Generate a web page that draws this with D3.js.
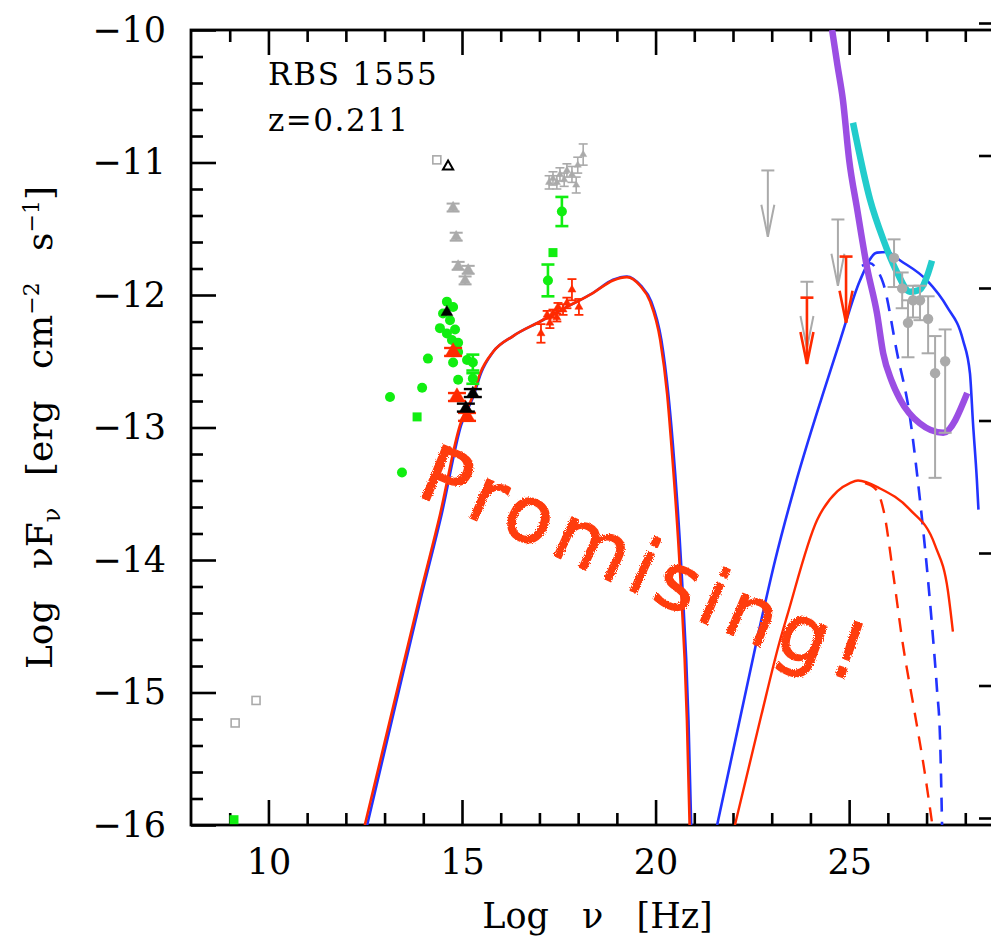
<!DOCTYPE html>
<html><head><meta charset="utf-8">
<script src="https://cdn.jsdelivr.net/npm/d3@7"></script>
<style>body{margin:0;background:#fff}svg{display:block}</style>
</head><body>
<svg id="c" width="991" height="936"></svg>
<script>
// ---------- data (log nu [Hz], log nuFnu [erg cm^-2 s^-1]) ----------
const xMajorTicks = [10, 15, 20, 25];
const xMinorTicks = d3.range(9, 29);
const yMajorTicks = [-10, -11, -12, -13, -14, -15, -16];
const yMinorTicks = d3.range(-16, -9.9, 0.2).map(v => +v.toFixed(1));
const sourceName = "RBS 1555";
const redshiftLabel = "z=0.211";

const syncBlue = [[12.55,-16.0],[13.27,-15.11],[13.96,-14.26],[14.47,-13.66],[14.98,-12.98],[15.30,-12.76],[15.49,-12.59],[15.80,-12.43],[16.32,-12.31],[17.02,-12.20],[17.71,-12.09],[18.38,-11.985],[18.90,-11.885],[19.26,-11.86],[19.62,-11.93],[19.89,-12.05],[20.15,-12.34],[20.33,-12.75],[20.44,-13.1],[20.67,-14.08],[20.85,-15.21],[20.92,-16.0]];
const syncRed  = [[12.49,-16.0],[13.22,-15.11],[13.92,-14.26],[14.43,-13.66],[14.95,-12.98],[15.28,-12.76],[15.47,-12.59],[15.80,-12.43],[16.32,-12.31],[17.02,-12.20],[17.71,-12.09],[18.38,-11.985],[18.90,-11.89],[19.26,-11.865],[19.60,-11.93],[19.86,-12.05],[20.12,-12.34],[20.30,-12.75],[20.40,-13.1],[20.63,-14.08],[20.81,-15.21],[20.88,-16.0]];
const icBlue   = [[21.59,-16.0],[22.62,-14.60],[23.09,-14.0],[23.60,-13.44],[24.33,-12.74],[24.77,-12.34],[25.28,-11.89],[25.72,-11.68],[25.98,-11.675],[26.32,-11.74],[27.01,-11.89],[27.53,-12.09],[27.94,-12.34],[28.12,-12.59],[28.20,-12.97],[28.30,-13.40],[28.34,-13.62]];
const icBlueDash = [[25.33,-11.78],[25.54,-11.76],[25.72,-11.81],[25.88,-11.91],[26.24,-12.44],[26.57,-12.92],[26.75,-13.34],[27.17,-14.60],[27.27,-14.98],[27.35,-15.36],[27.40,-16.0]];
const icRed    = [[22.05,-16.0],[22.70,-15.21],[23.22,-14.60],[23.40,-14.42],[24.17,-13.70],[24.70,-13.48],[25.02,-13.42],[25.23,-13.40],[25.80,-13.46],[26.57,-13.62],[27.22,-13.89],[27.55,-14.23],[27.68,-14.54]];
const icRedDash = [[25.41,-13.42],[25.70,-13.47],[25.90,-13.64],[26.14,-14.11],[26.39,-14.64],[26.68,-15.13],[26.94,-15.58],[27.14,-15.98]];
const sensPurple = [[24.56,-10.0],[24.70,-10.27],[24.84,-10.53],[25.0,-10.98],[25.20,-11.34],[25.46,-11.79],[25.72,-12.14],[25.88,-12.44],[26.10,-12.65],[26.32,-12.79],[26.83,-12.97],[27.43,-13.04],[28.05,-12.74]];
const sensCyan = [[25.10,-10.70],[25.54,-11.28],[25.88,-11.58],[26.24,-11.83],[26.57,-11.975],[26.83,-11.96],[27.01,-11.86],[27.14,-11.74]];

const grayOpenSquares = [[9.14,-15.23],[9.68,-15.06],[14.35,-10.98]];
const greenSquares = [[9.11,-15.96],[13.84,-12.92],[17.35,-11.68]];
const blackOpenTriangles = [[14.64,-11.03]];
// [x, y, yErr]
const grayUVTriangles = [[14.77,-11.34,0.03],[14.85,-11.56,0.03],[14.90,-11.78,0.03],[15.16,-11.81,0.03],[15.08,-11.89,0.03]];
const grayXTriangles = [[17.25,-11.15,0.05],[17.35,-11.12,0.05],[17.45,-11.15,0.05],[17.53,-11.09,0.05],[17.64,-11.13,0.05],[17.71,-11.06,0.05],[17.84,-11.09,0.06],[17.95,-11.17,0.06],[17.99,-11.02,0.06],[18.13,-10.94,0.08]];
const greenCircles = [[14.61,-12.05,0],[14.77,-12.09,0],[14.51,-12.14,0],[14.69,-12.19,0],[14.43,-12.25,0],[14.61,-12.29,0],[14.82,-12.26,0],[14.74,-12.34,0],[14.90,-12.36,0],[14.90,-12.43,0],[14.12,-12.48,0],[14.77,-12.51,0],[15.13,-12.49,0],[15.28,-12.51,0.06],[14.90,-12.64,0],[15.28,-12.63,0.04],[13.97,-12.70,0],[13.14,-12.77,0],[13.45,-13.34,0],[17.58,-11.37,0.11],[17.22,-11.89,0.12]];
const redOptTriangles = [[14.77,-12.43,0.03],[14.87,-12.77,0.03],[15.13,-12.92,0.03]];
const blackTriangles = [[14.61,-12.13,0],[15.28,-12.74,0.03],[15.10,-12.85,0.03]];
const redXTriangles = [[17.04,-12.29,0.07],[17.20,-12.15,0.03],[17.27,-12.21,0.04],[17.35,-12.14,0.03],[17.45,-12.17,0.03],[17.48,-12.09,0.03],[17.61,-12.11,0.04],[17.71,-12.06,0.04],[17.84,-11.96,0.08],[18.02,-12.09,0.06]];
const fermiGray = [[26.16,-11.72,-11.58,-11.94],[26.37,-11.95,-11.83,-12.10],[26.65,-12.04,-11.93,-12.17],[26.83,-12.04,-11.93,-12.19],[26.52,-12.21,-12.04,-12.47],[27.04,-12.18,-12.01,-12.44],[27.22,-12.59,-12.31,-13.38],[27.48,-12.50,-12.26,-13.04]];
const ulGray = [[22.90,-11.06],[24.71,-11.43],[23.91,-11.90]];
const ulRed = [[23.91,-12.02],[24.92,-11.71]];
const annotation = "Promising!";

// ---------- layout ----------
const svg = d3.select("#c");
const L = 191, R = 1004, T = 30, B = 825;
const x = d3.scaleLinear([8, 29], [L, R]);
const y = d3.scaleLinear([-16, -10], [B, T]);
const RED = "#ff2a00", BLUE = "#2233ff", GREEN = "#11ee11", GRAY = "#aaaaaa";
const FONT = "'DejaVu Serif', 'Liberation Serif', serif";

const defs = svg.append("defs");
defs.append("clipPath").attr("id", "plotclip").append("rect")
  .attr("x", L).attr("y", T).attr("width", R - L).attr("height", B - T);
const flt = defs.append("filter").attr("id", "rough").attr("x", "-5%").attr("y", "-5%").attr("width", "110%").attr("height", "110%");
flt.append("feTurbulence").attr("type", "fractalNoise").attr("baseFrequency", 0.9).attr("numOctaves", 2).attr("result", "n");
flt.append("feDisplacementMap").attr("in", "SourceGraphic").attr("in2", "n").attr("scale", 4);

// ---------- axes ----------
function styleAxis(g) {
  g.selectAll(".domain").remove();
  g.selectAll("line").attr("stroke", "#000").attr("stroke-width", 2.6);
  g.selectAll("text").attr("fill", "#000").style("font-family", FONT).style("font-size", "35px");
}
const minorX = xMinorTicks.filter(v => !xMajorTicks.includes(v));
const minorY = yMinorTicks.filter(v => !yMajorTicks.includes(v));
svg.append("g").attr("transform", `translate(0,${B})`)
  .call(d3.axisBottom(x).tickValues(minorX).tickSizeInner(-12).tickSizeOuter(0).tickFormat(""))
  .call(styleAxis);
svg.append("g").attr("transform", `translate(0,${B})`)
  .call(d3.axisBottom(x).tickValues(xMajorTicks).tickSizeInner(-25).tickSizeOuter(0).tickPadding(24).tickFormat(d3.format("d")))
  .call(styleAxis);
svg.append("g").attr("transform", `translate(0,${T})`)
  .call(d3.axisTop(x).tickValues(minorX).tickSizeInner(-12).tickSizeOuter(0).tickFormat(""))
  .call(styleAxis);
svg.append("g").attr("transform", `translate(0,${T})`)
  .call(d3.axisTop(x).tickValues(xMajorTicks).tickSizeInner(-25).tickSizeOuter(0).tickFormat(""))
  .call(styleAxis);
svg.append("g").attr("transform", `translate(${L},0)`)
  .call(d3.axisLeft(y).tickValues(minorY).tickSizeInner(-12).tickSizeOuter(0).tickFormat(""))
  .call(styleAxis);
svg.append("g").attr("transform", `translate(${L},0)`)
  .call(d3.axisLeft(y).tickValues(yMajorTicks).tickSizeInner(-25).tickSizeOuter(0).tickPadding(25).tickFormat(d3.format("d")))
  .call(styleAxis);
svg.append("g").attr("transform", `translate(${R},-7)`)
  .call(d3.axisRight(y).tickValues(minorY).tickSizeInner(-12).tickSizeOuter(0).tickFormat(""))
  .call(styleAxis);
svg.append("g").attr("transform", `translate(${R},-7)`)
  .call(d3.axisRight(y).tickValues(yMajorTicks).tickSizeInner(-25).tickSizeOuter(0).tickFormat(""))
  .call(styleAxis);
svg.append("rect").attr("x", L).attr("y", T).attr("width", R - L).attr("height", B - T)
  .attr("fill", "none").attr("stroke", "#000").attr("stroke-width", 2.8);

// axis titles
svg.append("text").attr("x", (L + R) / 2).attr("y", 928).attr("text-anchor", "middle")
  .style("font-family", FONT).style("font-size", "35px").style("word-spacing", "22px")
  .text("Log ν [Hz]");
const yl = svg.append("text").attr("transform", `translate(52,${(T + B) / 2}) rotate(-90)`)
  .attr("text-anchor", "middle").style("font-family", FONT).style("font-size", "36px").style("word-spacing", "20px");
yl.append("tspan").text("Log νF");
yl.append("tspan").attr("dy", 8).style("font-size", "24px").text("ν");
yl.append("tspan").attr("dy", -8).text(" [erg cm");
yl.append("tspan").attr("dy", -13).style("font-size", "22px").text("−2");
yl.append("tspan").attr("dy", 13).text(" s");
yl.append("tspan").attr("dy", -13).style("font-size", "22px").text("−1");
yl.append("tspan").attr("dy", 13).text("]");

svg.append("text").attr("x", 268).attr("y", 85).style("font-family", FONT).style("font-size", "31px").style("letter-spacing", "1.8px").text(sourceName);
svg.append("text").attr("x", 268).attr("y", 131).style("font-family", FONT).style("font-size", "31px").style("letter-spacing", "1.5px").text(redshiftLabel);

// ---------- curves ----------
const plot = svg.append("g").attr("clip-path", "url(#plotclip)");
const line = d3.line().x(d => x(d[0])).y(d => y(d[1])).curve(d3.curveMonotoneX);
function curve(data, color, w, dash) {
  plot.append("path").datum(data).attr("d", line).attr("fill", "none")
    .attr("stroke", color).attr("stroke-width", w).attr("stroke-linejoin", "round")
    .attr("stroke-dasharray", dash || null);
}
curve(syncBlue, BLUE, 2.6);
curve(syncRed, RED, 2.6);
curve(icBlue, BLUE, 2.6);
curve(icBlueDash, BLUE, 2.6, "14,10");
curve(icRed, RED, 2.4);
curve(icRedDash, RED, 2.4, "14,10");
curve(sensPurple, "#9b4ee3", 6.5);
curve(sensCyan, "#22cccc", 6.5);

// ---------- markers ----------
const pts = svg.append("g");
function errbar(data, color, capW, sw) {
  data.filter(d => d[2] > 0).forEach(d => {
    const g = pts.append("g").attr("stroke", color).attr("stroke-width", sw);
    const y1 = y(d[1] + d[2]), y2 = y(d[1] - d[2]), cx = x(d[0]);
    g.append("line").attr("x1", cx).attr("x2", cx).attr("y1", y1).attr("y2", y2);
    g.append("line").attr("x1", cx - capW / 2).attr("x2", cx + capW / 2).attr("y1", y1).attr("y2", y1);
    g.append("line").attr("x1", cx - capW / 2).attr("x2", cx + capW / 2).attr("y1", y2).attr("y2", y2);
  });
}
function tri(data, color, size, fill) {
  pts.selectAll(null).data(data).enter().append("path")
    .attr("d", d3.symbol(d3.symbolTriangle, size))
    .attr("transform", d => `translate(${x(d[0])},${y(d[1])})`)
    .attr("fill", fill ? color : "#fff").attr("stroke", color).attr("stroke-width", fill ? 0.5 : 2);
}
function squares(data, color, s, fill) {
  pts.selectAll(null).data(data).enter().append("rect")
    .attr("x", d => x(d[0]) - s / 2).attr("y", d => y(d[1]) - s / 2).attr("width", s).attr("height", s)
    .attr("fill", fill ? color : "none").attr("stroke", color).attr("stroke-width", fill ? 0 : 1.6);
}

squares(grayOpenSquares, GRAY, 8, false);
tri(blackOpenTriangles, "#000", 45, false);
errbar(grayUVTriangles, GRAY, 13, 2);
tri(grayUVTriangles, GRAY, 50, true);
errbar(grayXTriangles, GRAY, 9, 1.6);
tri(grayXTriangles, GRAY, 22, true);

errbar(greenCircles, GREEN, 13, 2.6);
pts.selectAll(null).data(greenCircles).enter().append("circle")
  .attr("cx", d => x(d[0])).attr("cy", d => y(d[1])).attr("r", 5).attr("fill", GREEN);
squares(greenSquares, GREEN, 9, true);

errbar(redOptTriangles, RED, 18, 2.4);
tri(redOptTriangles, RED, 110, true);
errbar(blackTriangles, "#000", 18, 2.4);
tri(blackTriangles, "#000", 60, true);
errbar(redXTriangles, RED, 9, 1.8);
tri(redXTriangles, RED, 28, true);

// Fermi points
fermiGray.forEach(d => {
  const g = pts.append("g").attr("stroke", GRAY).attr("stroke-width", 2);
  const cx = x(d[0]);
  g.append("line").attr("x1", cx).attr("x2", cx).attr("y1", y(d[2])).attr("y2", y(d[3]));
  [d[2], d[3]].forEach(v => g.append("line").attr("x1", cx - 6.5).attr("x2", cx + 6.5).attr("y1", y(v)).attr("y2", y(v)));
});
pts.selectAll(null).data(fermiGray).enter().append("circle")
  .attr("cx", d => x(d[0])).attr("cy", d => y(d[1])).attr("r", 5.2).attr("fill", GRAY);

// upper limits
function ul(data, color, sw) {
  data.forEach(d => {
    const g = pts.append("g").attr("stroke", color).attr("stroke-width", sw).attr("fill", "none");
    const cx = x(d[0]), y0 = y(d[1]), tip = y(d[1] - 0.5);
    g.append("line").attr("x1", cx - 6.5).attr("x2", cx + 6.5).attr("y1", y0).attr("y2", y0);
    g.append("line").attr("x1", cx).attr("x2", cx).attr("y1", y0).attr("y2", tip);
    g.append("path").attr("d", `M${cx - 6.5},${tip - 32}L${cx},${tip}L${cx + 6.5},${tip - 32}`).attr("stroke-linejoin", "miter");
  });
}
ul(ulGray, GRAY, 2);
ul(ulRed, RED, 2.6);

// ---------- annotation ----------
defs.append("path").attr("id", "promPath").attr("d", "M415,495 C520,535 700,630 850,680");
svg.append("text").attr("fill", "#ff3c10").attr("stroke", "#ff3c10").attr("stroke-width", 1.4)
  .attr("stroke-linejoin", "round").attr("filter", "url(#rough)")
  .style("font-family", "'DejaVu Sans', sans-serif").style("font-weight", "normal").style("font-size", "78px")
  .append("textPath").attr("href", "#promPath").attr("textLength", 478).attr("lengthAdjust", "spacing")
  .text(annotation);
</script>
</body></html>
